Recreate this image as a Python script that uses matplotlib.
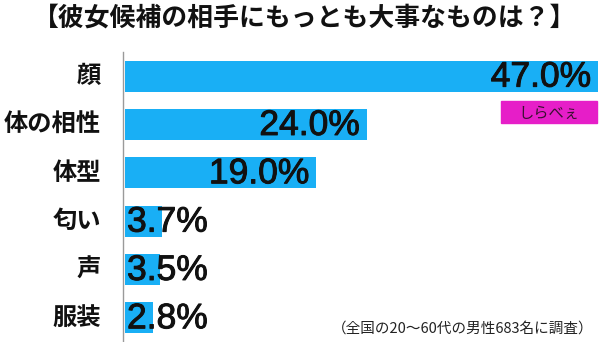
import matplotlib.pyplot as plt
import matplotlib.patheffects as pe
from matplotlib.patches import Rectangle

categories = ['顔', '体の相性', '体型', '匂い', '声', '服装']
values = [47.0, 24.0, 19.0, 3.7, 3.5, 2.8]
title = '【彼女候補の相手にもっとも大事なものは？】'
note = '（全国の20～60代の男性683名に調査）'

JP = ['Noto Sans CJK JP', 'DejaVu Sans']
bar_color = '#19aff5'
thick = [pe.withStroke(linewidth=0.7, foreground='#111111')]

fig = plt.figure(figsize=(6, 3.42), dpi=100)
ax = fig.add_axes([123 / 600, 0.0, 475 / 600, 1 - 52 / 342])

ypos = list(range(len(categories)))
ax.barh(ypos, values, height=0.64, color=bar_color, left=0.2)
ax.set_xlim(0, 47.2)
ax.set_ylim(5.5, -0.5)

for s in ['top', 'right', 'bottom']:
    ax.spines[s].set_visible(False)
ax.spines['left'].set_color('#9a9a9a')
ax.spines['left'].set_linewidth(1.0)
ax.set_xticks([])
ax.set_yticks([])

# category labels
for y, c in zip(ypos, categories):
    ax.text(-2.2, y, c, ha='right', va='center', fontsize=17.5,
            fontweight='bold', family=JP, color='#111111')

# value labels
for y, v in zip(ypos, values):
    txt = '%.1f%%' % v
    if v > 10:
        ax.text(v - 0.5, y + 0.02, txt, ha='right', va='center', fontsize=25.5,
                family='Liberation Sans', color='#111111', path_effects=thick)
    else:
        ax.text(0.4, y + 0.02, txt, ha='left', va='center', fontsize=25.5,
                family='Liberation Sans', color='#111111', path_effects=thick)

fig.text(33 / 600, 1 - 18 / 342, title, ha='left', va='center', fontsize=18.6,
         fontweight='bold', family=JP, color='#111111')
fig.text(593 / 600, 1 - 329 / 342, note, ha='right', va='center',
         fontsize=10.5, family=JP, color='#222222')

# logo badge
fig.patches.append(Rectangle((501 / 600, 1 - 123 / 342), 96 / 600, 22 / 342,
                             transform=fig.transFigure, color='#e61ec8'))
fig.text(549 / 600, 1 - 113 / 342, 'しらべぇ', ha='center', va='center',
         fontsize=11, family=JP, color='#3a1030')

fig.savefig('out.png', dpi=100)
